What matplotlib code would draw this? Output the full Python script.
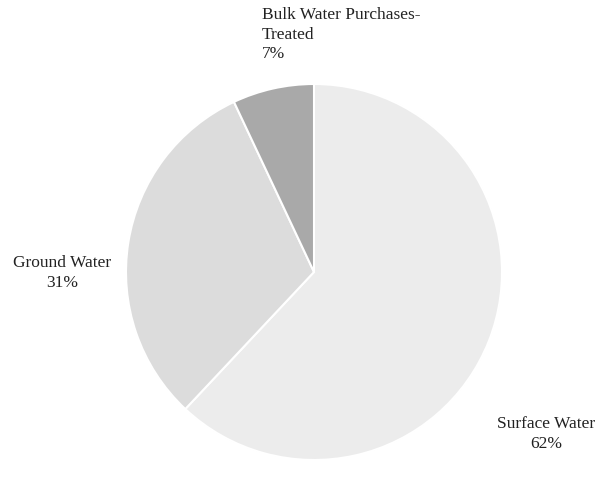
import matplotlib
matplotlib.use("Agg")
import matplotlib.pyplot as plt

# water supply sources, share of total
sources = ["Surface Water", "Ground Water", "Bulk Water Purchases-\nTreated"]
shares = [62, 31, 7]
colors = ["#ececec", "#dcdcdc", "#a9a9a9"]

plt.rcParams["font.family"] = ["Liberation Serif", "DejaVu Serif"]

fig = plt.figure(figsize=(6, 4.78), dpi=100)
ax = fig.add_axes([0, 0, 1, 1])

ax.pie(shares, colors=colors, startangle=90, counterclock=False,
       center=(314, 206), radius=188,
       wedgeprops=dict(edgecolor="white", linewidth=1.5))

ax.set_xlim(0, 600)
ax.set_ylim(0, 478)
ax.set_aspect("equal")
ax.axis("off")

txt = dict(fontsize=12.5, color="#222222", linespacing=1.3)
ax.text(262, 471, f"{sources[2]}\n{shares[2]}%", ha="left", va="top", **txt)
ax.text(62, 205, f"{sources[1]}\n{shares[1]}%", ha="center", va="center", **txt)
ax.text(546, 44, f"{sources[0]}\n{shares[0]}%", ha="center", va="center", **txt)

fig.savefig("out.png", dpi=100)
